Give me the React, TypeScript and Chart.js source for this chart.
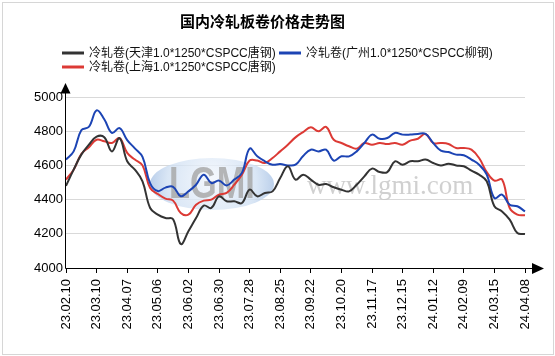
import React, { useEffect, useRef } from 'react';
import { Chart, registerables } from 'chart.js';

Chart.register(...registerables);

const chartTitle = '国内冷轧板卷价格走势图';

const tickLabels = [
  '23.02.10', '23.03.10', '23.04.07', '23.05.06', '23.06.02', '23.06.30', '23.07.28', '23.08.25',
  '23.09.22', '23.10.20', '23.11.17', '23.12.15', '24.01.12', '24.02.09', '24.03.15', '24.04.08',
];
const POINTS_PER_LABEL = 4;

const seriesNames = [
  '冷轧卷(天津1.0*1250*CSPCC唐钢)',
  '冷轧卷(广州1.0*1250*CSPCC柳钢)',
  '冷轧卷(上海1.0*1250*CSPCC唐钢)',
];
const seriesColors = ['#333333', '#1c44b4', '#dc3a35'];

const tianjin = [
  4480, 4575, 4663, 4721, 4768, 4765, 4682, 4760, 4624, 4575,
  4507, 4351, 4312, 4292, 4285, 4140, 4215, 4292, 4365, 4351,
  4419, 4390, 4390, 4380, 4458, 4419, 4439, 4448, 4526, 4595,
  4517, 4546, 4517, 4487, 4491, 4472, 4458, 4448, 4487, 4536,
  4581, 4561, 4561, 4624, 4604, 4624, 4624, 4634, 4614, 4600,
  4610, 4600, 4595, 4569, 4546, 4507, 4361, 4331, 4283, 4205,
  4199,
];
const guangzhou = [
  4634, 4682, 4805, 4826, 4922, 4870, 4790, 4818, 4748, 4700,
  4650, 4495, 4450, 4470, 4475, 4420, 4448, 4487, 4546, 4497,
  4511, 4483, 4517, 4556, 4698, 4653, 4624, 4604, 4608, 4600,
  4604, 4655, 4692, 4682, 4692, 4628, 4653, 4653, 4682, 4731,
  4780, 4756, 4760, 4790, 4780, 4780, 4784, 4784, 4731, 4686,
  4678, 4663, 4659, 4634, 4604, 4546, 4409, 4429, 4370, 4361,
  4331,
];
const shanghai = [
  4517, 4575, 4667, 4706, 4750, 4741, 4731, 4760, 4673, 4634,
  4600, 4468, 4433, 4406, 4394, 4322, 4312, 4370, 4394, 4400,
  4429, 4439, 4487, 4546, 4628, 4628, 4614, 4643, 4682, 4721,
  4764, 4795, 4823, 4800, 4825, 4750, 4731, 4712, 4698, 4731,
  4721, 4731, 4725, 4731, 4721, 4745, 4756, 4784, 4731, 4731,
  4725, 4702, 4702, 4692, 4643, 4561, 4511, 4517, 4351, 4312,
  4308,
];

const yMin = 4000;
const yMax = 5000;
const yStep = 200;

const categories = tianjin.map((_, i) =>
  i % POINTS_PER_LABEL === 0 ? tickLabels[i / POINTS_PER_LABEL] ?? '' : ''
);

const LATIN_CJK = '"Liberation Sans", Arial, "Noto Sans CJK SC", sans-serif';

const framePlugin = {
  id: 'frame',
  beforeDraw(chart: any) {
    const { ctx, width, height } = chart;
    ctx.save();
    ctx.fillStyle = '#ffffff';
    ctx.fillRect(0, 0, width, height);
    ctx.strokeStyle = '#d6d6d6';
    ctx.lineWidth = 1;
    ctx.strokeRect(2.5, 2.5, 551, 352);
    ctx.restore();
  },
};

const watermarkPlugin = {
  id: 'watermark',
  beforeDatasetsDraw(chart: any) {
    const { ctx } = chart;
    const cx = 212, cy = 184, rx = 62, ry = 26;
    ctx.save();
    const g = ctx.createRadialGradient(cx, cy - 6, 4, cx, cy, rx);
    g.addColorStop(0, 'rgba(240,245,252,0.8)');
    g.addColorStop(0.7, 'rgba(205,222,242,0.75)');
    g.addColorStop(1, 'rgba(165,192,228,0.75)');
    ctx.beginPath();
    ctx.ellipse(cx, cy, rx, ry, 0, 0, Math.PI * 2);
    ctx.fillStyle = g;
    ctx.fill();
    ctx.translate(cx, cy + 2);
    ctx.scale(0.78, 1);
    ctx.font = 'bold 44px "Liberation Sans", Arial, sans-serif';
    ctx.textAlign = 'center';
    ctx.textBaseline = 'middle';
    ctx.fillStyle = 'rgba(165,165,165,0.8)';
    ctx.fillText('LGMI', 0, 0);
    ctx.restore();

    ctx.save();
    ctx.font = '27px "Liberation Serif", "DejaVu Serif", serif';
    ctx.fillStyle = 'rgba(200,200,200,0.85)';
    ctx.textBaseline = 'alphabetic';
    ctx.textAlign = 'left';
    ctx.fillText('www.lgmi.com', 307, 194);
    ctx.restore();
  },
};

const axesPlugin = {
  id: 'arrowAxes',
  afterDraw(chart: any) {
    const { ctx, chartArea } = chart;
    const x0 = Math.round(chartArea.left) - 0.5;
    const y0 = Math.round(chartArea.bottom) + 0.5;
    const top = chartArea.top;
    const right = chartArea.right;
    ctx.save();
    ctx.strokeStyle = '#000';
    ctx.fillStyle = '#000';
    ctx.lineWidth = 1;
    ctx.beginPath();
    ctx.moveTo(x0, y0);
    ctx.lineTo(x0, top - 5);
    ctx.moveTo(x0, y0);
    ctx.lineTo(right + 8, y0);
    ctx.stroke();
    // y arrow
    ctx.beginPath();
    ctx.moveTo(x0, top - 14);
    ctx.lineTo(x0 - 5, top - 3.5);
    ctx.lineTo(x0 + 5, top - 3.5);
    ctx.closePath();
    ctx.fill();
    // x arrow
    ctx.beginPath();
    ctx.moveTo(right + 19, y0);
    ctx.lineTo(right + 7, y0 - 5.5);
    ctx.lineTo(right + 7, y0 + 5.5);
    ctx.closePath();
    ctx.fill();
    ctx.restore();
  },
};

const legendPlugin = {
  id: 'customLegend',
  afterDraw(chart: any) {
    const { ctx } = chart;
    const slots = [
      { x: 62, y: 53 },
      { x: 279, y: 53 },
      { x: 62, y: 67 },
    ];
    ctx.save();
    ctx.font = '12px ' + LATIN_CJK;
    ctx.textBaseline = 'middle';
    ctx.textAlign = 'left';
    chart.data.datasets.forEach((ds: any, i: number) => {
      const s = slots[i];
      if (!s) return;
      ctx.strokeStyle = ds.borderColor;
      ctx.lineWidth = 3;
      ctx.beginPath();
      ctx.moveTo(s.x, s.y);
      ctx.lineTo(s.x + 22, s.y);
      ctx.stroke();
      ctx.fillStyle = '#111';
      ctx.fillText(ds.label, s.x + 27, s.y + 0.5);
    });
    ctx.restore();
  },
};

export default function App() {
  const canvasRef = useRef<HTMLCanvasElement | null>(null);

  useEffect(() => {
    document.body.style.margin = '0';
    const canvas = canvasRef.current;
    if (!canvas) return;
    const series = [tianjin, guangzhou, shanghai];
    const chart = new Chart(canvas, {
      type: 'line',
      data: {
        labels: categories,
        datasets: series.map((data, i) => ({
          label: seriesNames[i],
          data,
          borderColor: seriesColors[i],
          backgroundColor: seriesColors[i],
          borderWidth: 2,
          pointRadius: 0,
          pointHoverRadius: 0,
          tension: 0.4,
          fill: false,
        })),
      },
      options: {
        responsive: false,
        animation: false,
        devicePixelRatio: 1,
        layout: { padding: { left: 0, right: 30, top: 0, bottom: 0 } },
        plugins: {
          legend: { display: false },
          tooltip: { enabled: false },
          title: {
            display: true,
            text: chartTitle,
            color: '#000',
            font: { size: 15, weight: 'bold', family: '"Noto Sans CJK SC", sans-serif' },
            padding: { top: 12, bottom: 67 },
          },
        },
        scales: {
          x: {
            type: 'category',
            offset: false,
            border: { display: false },
            grid: {
              display: true,
              drawOnChartArea: false,
              drawTicks: true,
              tickLength: 5,
              color: (c: any) => (categories[c.index] ? '#000' : 'rgba(0,0,0,0)'),
              tickColor: (c: any) => (categories[c.index] ? '#000' : 'rgba(0,0,0,0)'),
            },
            ticks: {
              autoSkip: false,
              minRotation: 90,
              maxRotation: 90,
              padding: 6,
              color: '#000',
              font: { size: 13, family: LATIN_CJK },
              callback: (_v: any, i: number) => categories[i],
            },
            afterFit: (scale: any) => {
              scale.height = 88;
            },
          },
          y: {
            min: yMin,
            max: yMax,
            border: { display: false },
            grid: {
              color: '#d9d9d9',
              lineWidth: 1,
              drawTicks: false,
            },
            ticks: {
              stepSize: yStep,
              padding: 3,
              color: '#000',
              font: { size: 13, family: LATIN_CJK },
              callback: (v: any) => String(v),
            },
            afterFit: (scale: any) => {
              scale.width = 66;
            },
          },
        },
      },
      plugins: [framePlugin, watermarkPlugin, axesPlugin, legendPlugin],
    });
    return () => chart.destroy();
  }, []);

  return (
    <div style={{ position: 'absolute', left: 0, top: 0, width: 555, height: 356 }}>
      <canvas ref={canvasRef} width={555} height={356} />
    </div>
  );
}
